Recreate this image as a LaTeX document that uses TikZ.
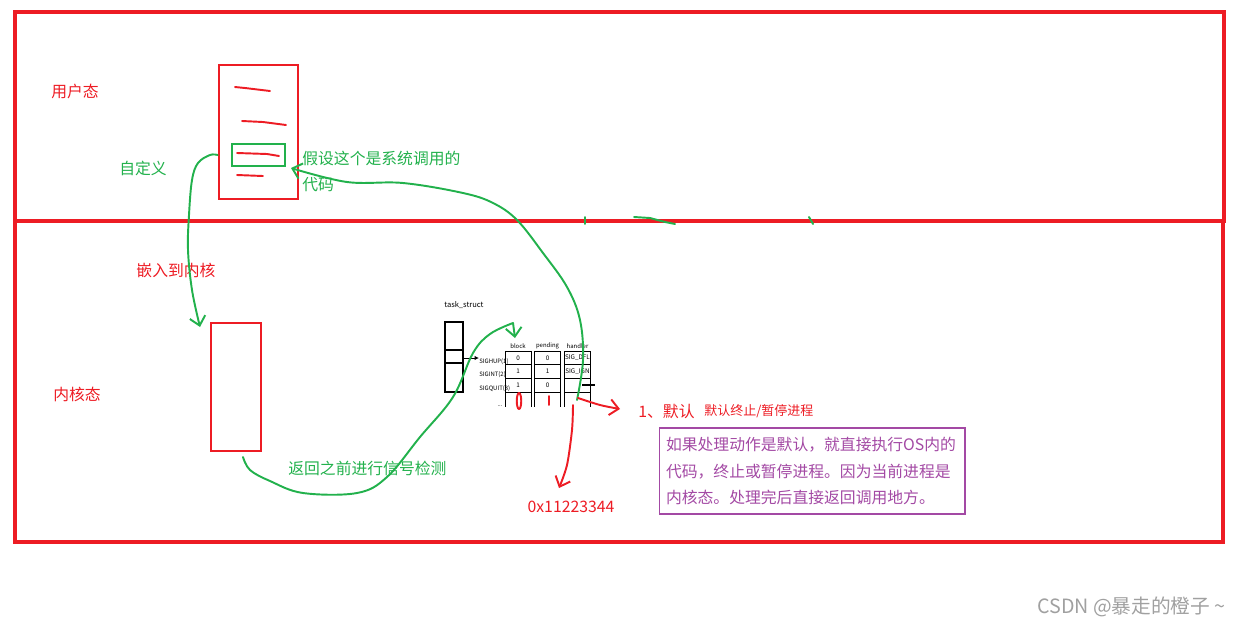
\documentclass[tikz,border=0pt]{standalone}
\usepackage{fontspec}
\setmainfont{Noto Sans CJK SC}
\usetikzlibrary{arrows.meta, positioning}
\definecolor{paintred}{HTML}{ED1C24}
\definecolor{paintgreen}{HTML}{22B14C}
\definecolor{note}{HTML}{A349A4}
\definecolor{mark}{HTML}{A0A0A0}

\begin{document}
\begin{tikzpicture}[x=0.02cm, y=-0.02cm,
  region/.style={draw=paintred, line width=1.9pt, inner sep=0pt, outer sep=0pt},
  stackbox/.style={draw=paintred, line width=1.5pt, inner sep=0pt},
  pen/.style={line width=1.1pt, line cap=round, line join=round},
  barb/.style={-{Straight Barb[length=5pt, width=9pt]}},
  lbl/.style={font=\fontsize{9}{11}\selectfont, inner sep=0pt},
  tiny/.style={font=\fontsize{3.4}{4}\selectfont, inner sep=0pt},
  cell/.style={draw, line width=0.5pt, minimum width=0.52cm, minimum height=0.274cm,
    inner sep=0pt, outer sep=0pt, font=\fontsize{3.6}{4}\selectfont}]
  \useasboundingbox (0,0) rectangle (1239,626);

  % user and kernel regions
  \node[region, minimum width=24.18cm, minimum height=4.18cm] (userspace) at (619.5,116.5) {};
  \node[region, minimum width=24.16cm, minimum height=6.42cm] (kernelspace) at (619,381.5) {};
  \node[lbl, paintred] (ulabel) at (75,91) {用户态};
  \node[lbl, paintred] (klabel) at (77,394) {内核态};

  % user stack with the code lines
  \node[stackbox, minimum width=1.58cm, minimum height=2.68cm] (ustack) at (258.5,132) {};
  \node[draw=paintgreen, line width=1.5pt, inner sep=0pt, minimum width=1.06cm, minimum height=0.44cm] (sysc) at (258.5,155) {};
  \draw[pen, paintred] (235,87) -- (245,88) -- (270,91);
  \draw[pen, paintred] (242,121) -- (263,122) -- (286,125);
  \draw[pen, paintred] (237,153) -- (267,154) -- (279,156);
  \draw[pen, paintred] (237,175) -- (263,176);
  \node[lbl, paintgreen, anchor=west] (scnote) at (302,158) {假设这个是系统调用的};
  \node[lbl, paintgreen, anchor=west] (scnote2) at (302,185) {代码};

  % kernel stack
  \node[stackbox, minimum width=1.0cm, minimum height=2.56cm] (kstack) at (236,387) {};
  \node[lbl, paintgreen] (custom) at (143,168) {自定义};
  \node[lbl, paintred] (embed) at (176,270) {嵌入到内核};

  % task_struct and the signal tables
  \node[tiny, font=\fontsize{4.3}{5}\selectfont, anchor=west] (tslabel) at (444,305) {task\_struct};
  \node[draw, line width=0.7pt, inner sep=0pt, minimum width=0.36cm, minimum height=1.4cm] (task) at (454,357) {};
  \draw[line width=0.6pt] (task.west |- 0,350) -- (task.east |- 0,350);
  \draw[line width=0.9pt] (task.west |- 0,363) -- (task.east |- 0,363);
  \foreach \cx/\head/\va/\vb/\vc [count=\n] in
    {518/block/0/1/1, 547.5/pending/0/1/0, 577.5/handler/SIG\_DFL/SIG\_IGN/{}} {
    \node[tiny] (head\n) at (\cx,346) {\head};
    \node[cell] (c\n-1) at (\cx,357.8) {\va};
    \node[cell, below=0pt of c\n-1] (c\n-2) {\vb};
    \node[cell, below=0pt of c\n-2] (c\n-3) {\vc};
    \draw[line width=0.5pt] (c\n-3.south west) -- ++(0,15) (c\n-3.south east) -- ++(0,15);
  }
  \foreach \lab [count=\n] in {SIGHUP(1), SIGINT(2), SIGQUIT(3)}
    \node[tiny, anchor=west] (sig\n) at (479, 348+\n*13.5) {\lab};
  \node[tiny] (more) at (500,406) {...};
  \draw[line width=0.5pt, -{Latex[length=2.5pt, width=2.5pt]}] (task.east |- 0,358) -- (sig1.west |- 0,358);
  \draw[line width=0.9pt] (582,385) -- (595,385);

  % green strokes across the boundary
  \draw[pen, paintgreen] (585,217) -- (585,224);
  \draw[pen, paintgreen] (634,217) -- (650,218) -- (665,222) -- (675,224);
  \draw[pen, paintgreen] (809,217) -- (813,224);

  % custom code goes into the kernel
  \coordinate (dive) at (200,327);
  \draw[pen, paintgreen, barb] plot[smooth, tension=0.6] coordinates
    {(ustack.west |- sysc.west) (210,155) (198,163) (192,180) (189,215) (188,250) (192,290) (dive)};

  % back to check the signals
  \coordinate (ret) at (243,457);
  \coordinate (chk) at (515,338);
  \draw[pen, paintgreen, barb] plot[smooth, tension=0.6] coordinates
    {(ret) (250,470) (270,481) (303,493) (357,493) (387,477) (420,437) (453,397) (473,353) (490,334) (513,323)} -- (chk);
  \node[lbl, paintgreen, anchor=west] (retnote) at (288,468) {返回之前进行信号检测};

  % handler calls back to the user code
  \coordinate (hstart) at (577,400);
  \coordinate (callback) at (291,168);
  \draw[pen, paintgreen, barb] plot[smooth, tension=0.6] coordinates
    {(hstart) (583,360) (580,320) (567,287) (543,253) (517,220) (493,203) (463,193) (403,183) (347,182) (callback)};

  % red marks under the tables
  \draw[pen, paintred] (519,401) ellipse [x radius=0.045cm, y radius=0.16cm];
  \draw[pen, paintred] (549,396) -- (549,405);
  \coordinate (hfoot) at (578,398);
  \coordinate (dflto) at (620,409);
  \coordinate (addrto) at (559,488);
  \draw[pen, paintred, barb] plot[smooth] coordinates {(hfoot) (600,405) (dflto)};
  \draw[pen, paintred, barb] plot[smooth] coordinates {(573,405) (572,430) (567,465) (addrto)};
  \node[lbl, paintred] (addr) at (571,507) {0x11223344};
  \node[lbl, paintred, anchor=west] (dfl) at (638,411) {1、默认};
  \node[inner sep=0pt, paintred, font=\fontsize{7.4}{9}\selectfont, anchor=west] (dflnote) at (704,411) {默认终止/暂停进程};

  % note box
  \node[draw=note, line width=0.6pt, text=note, inner xsep=0.14cm, inner ysep=0pt,
    minimum width=6.12cm, minimum height=1.72cm, text width=5.84cm, align=left,
    font=\fontsize{9}{15.3}\selectfont] (note) at (812,471)
    {如果处理动作是默认，就直接执行OS内的\\代码，终止或暂停进程。因为当前进程是\\内核态。处理完后直接返回调用地方。};

  \node[inner sep=0pt, text=mark, font=\fontsize{11.2}{13}\selectfont, anchor=east] (watermark) at (1226,607) {CSDN @暴走的橙子 \textasciitilde};
\end{tikzpicture}
\end{document}
